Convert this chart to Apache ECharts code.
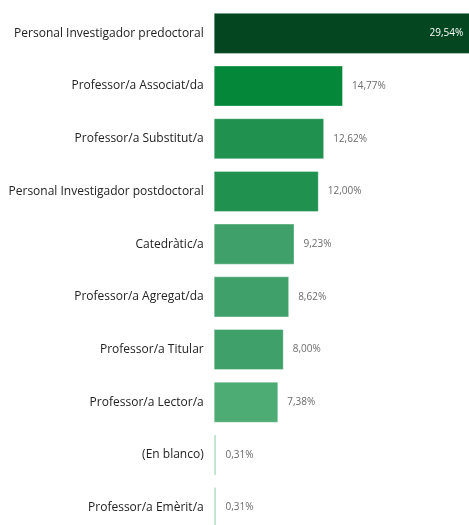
<!DOCTYPE html>
<html><head><meta charset="utf-8">
<script src="https://cdn.jsdelivr.net/npm/echarts@6/dist/echarts.min.js"></script>
<style>html,body{margin:0;padding:0;background:#fff}#c{width:469px;height:525px}</style>
</head><body><div id="c"></div>
<script>
const categories = ["Personal Investigador predoctoral","Professor/a Associat/da","Professor/a Substitut/a","Personal Investigador postdoctoral","Catedràtic/a","Professor/a Agregat/da","Professor/a Titular","Professor/a Lector/a","(En blanco)","Professor/a Emèrit/a"];
const values = [29.54,14.77,12.62,12.00,9.23,8.62,8.00,7.38,0.31,0.31];
const colors = ["#03461f","#05873a","#219150","#219150","#40a069","#40a069","#40a069","#4dab74","#a6dab8","#a6dab8"];
const fmt = v => v.toFixed(2).replace('.', ',') + '%';
const chart = echarts.init(document.getElementById('c'));
chart.setOption({
  animation:false,
  grid:{left:213.7,top:7,width:262.6,height:527,containLabel:false,outerBoundsMode:'none'},
  xAxis:{type:'value',min:0,max:30,show:false},
  yAxis:{type:'category',data:categories,inverse:true,
    axisLine:{show:false},axisTick:{show:false},
    axisLabel:{margin:10,fontSize:12,color:'#222',fontFamily:'Open Sans'}},
  series:[{type:'bar',barCategoryGap:'22%',
    data:values.map((v,i)=>({value:v,itemStyle:{color:colors[i]},
      label: i===0 ? {position:'insideRight',distance:9,color:'#fff'} : {}})),
    itemStyle:{borderColor:'rgba(255,255,255,0.35)',borderWidth:1},
    label:{show:true,position:'right',distance:9,fontSize:10,color:'#6b6b6b',fontFamily:'Open Sans',
      formatter:p=>fmt(p.value)}
  }]
});
</script></body></html>
